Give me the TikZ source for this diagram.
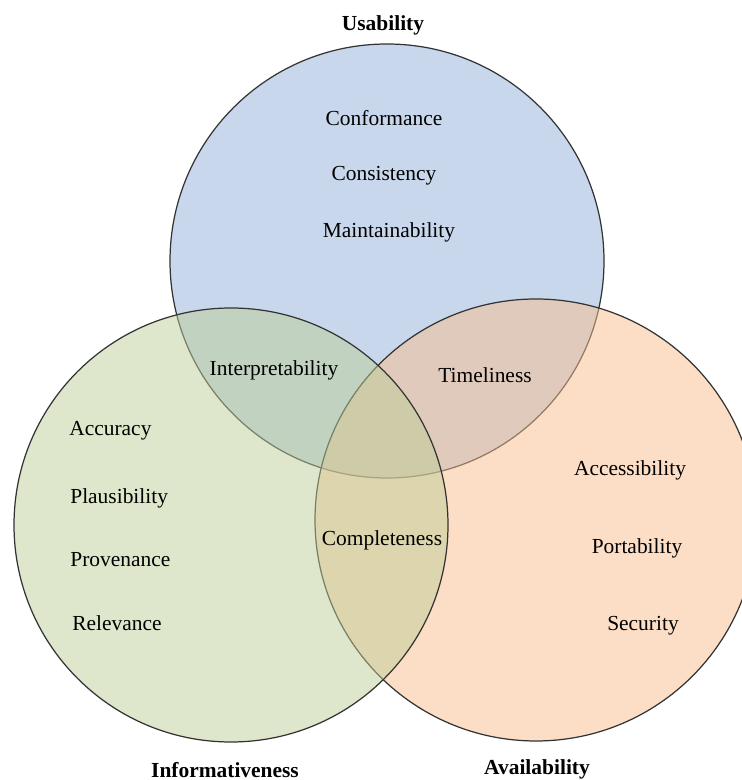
\documentclass[tikz,border=0pt]{standalone}
\usepackage{fontspec}
\setmainfont{Liberation Serif}
\usepackage{tikz}
\definecolor{UsabilityBlue}{RGB}{145,175,215}
\definecolor{AvailabilityOrange}{RGB}{249,189,141}
\definecolor{InformativenessGreen}{RGB}{189,205,151}
\tikzset{
  venn/.style={draw=black!80, line width=0.7pt, fill opacity=0.5},
  term/.style={font=\fontsize{12.2}{14}\selectfont, text height=1.4ex, text depth=0pt, inner sep=0pt},
  heading/.style={term, font=\fontsize{12.2}{14}\selectfont\bfseries}
}

\begin{document}
\begin{tikzpicture}[x=0.02cm,y=0.02cm]
       \useasboundingbox(0,0)rectangle(742,780);
       \coordinate(UsabilityCentre)at(387,519);
       \coordinate(InformativenessCentre)at(231,255);
       \coordinate(AvailabilityCentre)at(536,260);
       \draw[venn,fill=UsabilityBlue](UsabilityCentre)circle(217);
       \draw[venn,fill=AvailabilityOrange](AvailabilityCentre)circle(221);
       \draw[venn,fill=InformativenessGreen](InformativenessCentre)circle(217);
       \node[heading](Usability)at(383,755){Usability};
       \node[heading, anchor=base](Informativeness)at(225,3){Informativeness};
       \node[heading, anchor=base](Availability)at(537,6){Availability};
       \node[term](Conformance)at(384,660){Conformance};
       \node[term](Consistency)at(384,605){Consistency};
       \node[term](Maintainability)at(389,548){Maintainability};
       \node[term](Interpretability)at(274,410){Interpretability};
       \node[term](Timeliness)at(485,403){Timeliness};
       \node[term](Completeness)at(382,240){Completeness};
       \node[term, anchor=west](Accuracy)at(69,350){Accuracy};
       \node[term, anchor=west](Plausibility)at(70,282){Plausibility};
       \node[term, anchor=west](Provenance)at(70,219){Provenance};
       \node[term, anchor=west](Relevance)at(72,155){Relevance};
       \node[term](Accessibility)at(630,310){Accessibility};
       \node[term](Portability)at(637,232){Portability};
       \node[term](Security)at(643,155){Security};
      \end{tikzpicture}
\end{document}
